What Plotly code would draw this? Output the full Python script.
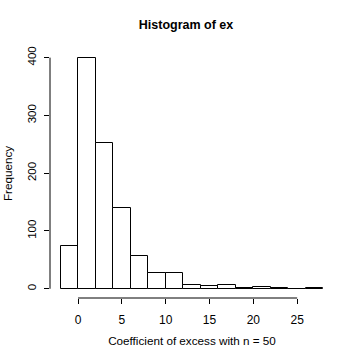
import plotly.graph_objects as go

bin_edges = [-2, 0, 2, 4, 6, 8, 10, 12, 14, 16, 18, 20, 22, 24, 26, 28]
counts = [74, 399, 252, 140, 57, 28, 28, 7, 5, 7, 1, 3, 1, 0, 1]
x_ticks = [0, 5, 10, 15, 20, 25]
y_ticks = [0, 100, 200, 300, 400]

centers = [(a + b) / 2 for a, b in zip(bin_edges[:-1], bin_edges[1:])]
widths = [b - a for a, b in zip(bin_edges[:-1], bin_edges[1:])]

xr = bin_edges[-1] - bin_edges[0]
xmin, xmax = bin_edges[0] - 0.04 * xr, bin_edges[-1] + 0.04 * xr
ymax_c = max(counts)
ymin, ymax = -0.04 * ymax_c, ymax_c * 1.04

FONT = "Liberation Sans, Arial, Helvetica, sans-serif"

fig = go.Figure(go.Bar(
    x=centers, y=counts, width=widths,
    marker=dict(color="white", line=dict(color="black", width=1)),
    showlegend=False, hoverinfo="skip",
))

fig.update_layout(
    width=360, height=360,
    margin=dict(l=50, r=26, t=49, b=62),
    paper_bgcolor="white", plot_bgcolor="white",
    font=dict(family=FONT, size=12, color="black"),
    title=dict(text="<b>Histogram of ex</b>", x=186 / 360, xref="container",
               xanchor="center", y=1 - 25 / 360, yanchor="middle",
               font=dict(size=12.5, family=FONT)),
    bargap=0,
    xaxis=dict(range=[xmin, xmax], tickvals=x_ticks, ticks="outside", ticklen=5,
               tickcolor="black", showgrid=False, zeroline=False, showline=False,
               automargin=False, ticklabelstandoff=6,
               title=dict(text="Coefficient of excess with n = 50", standoff=10,
                          font=dict(size=11.7)),
               tickfont=dict(size=12)),
    yaxis=dict(range=[ymin, ymax], tickvals=y_ticks, ticks="outside", ticklen=5,
               tickcolor="black", showgrid=False, zeroline=False, showline=False,
               tickangle=-90, automargin=False, ticklabelstandoff=3,
               title=dict(text="Frequency", standoff=11, font=dict(size=11.7)),
               tickfont=dict(size=11.5)),
)

fig.add_shape(type="line", xref="x", yref="paper", x0=x_ticks[0], x1=x_ticks[-1],
              y0=0, y1=0, line=dict(color="black", width=1))
fig.add_shape(type="line", xref="paper", yref="y", x0=0, x1=0,
              y0=y_ticks[0], y1=y_ticks[-1], line=dict(color="black", width=1))

fig.write_html("out.html", config={"displayModeBar": False},
               post_script="document.body.style.margin='0';")
